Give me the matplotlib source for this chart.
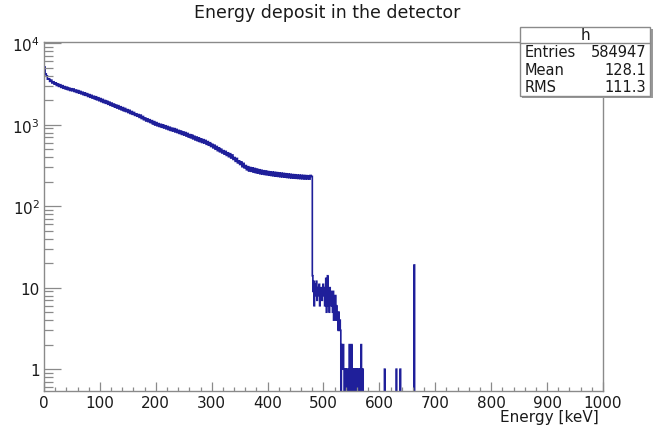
import numpy as np
import matplotlib.pyplot as plt
from matplotlib.ticker import FixedLocator, MultipleLocator, FuncFormatter, NullFormatter
from matplotlib.patches import Rectangle
from matplotlib.lines import Line2D

plt.rcParams['font.family'] = ['DejaVu Sans']

# continuum, 2 keV bins from 0 to 480 keV (counts per keV)
cont_counts = [
    5100, 4200, 3980, 3620, 3650, 3400, 3520, 3250, 3360, 3140,
    3260, 3030, 3160, 2950, 3090, 2870, 3010, 2800, 2930, 2740,
    2880, 2690, 2810, 2630, 2760, 2610, 2740, 2550, 2660, 2490,
    2620, 2440, 2560, 2390, 2500, 2330, 2460, 2290, 2400, 2220,
    2340, 2170, 2290, 2120, 2230, 2070, 2200, 2020, 2140, 1970,
    2090, 1920, 2040, 1870, 1980, 1830, 1940, 1780, 1890, 1730,
    1840, 1690, 1790, 1640, 1740, 1600, 1710, 1560, 1660, 1520,
    1620, 1480, 1580, 1450, 1530, 1410, 1500, 1370, 1450, 1340,
    1410, 1300, 1360, 1270, 1330, 1230, 1310, 1190, 1260, 1150,
    1210, 1110, 1180, 1090, 1150, 1060, 1120, 1020, 1090, 990,
    1060, 970, 1030, 950, 1010, 930, 995, 910, 970, 890,
    950, 870, 930, 850, 905, 835, 895, 815, 875, 800,
    850, 780, 835, 760, 815, 745, 800, 725, 780, 705,
    755, 690, 745, 670, 720, 650, 705, 635, 690, 620,
    670, 605, 655, 595, 640, 575, 620, 560, 600, 540,
    575, 520, 560, 500, 540, 480, 520, 465, 500, 450,
    480, 435, 470, 420, 452, 405, 440, 390, 425, 375,
    395, 355, 385, 340, 360, 325, 350, 305, 335, 295,
    315, 280, 305, 270, 298, 268, 295, 262, 290, 258,
    285, 255, 280, 250, 276, 248, 272, 245, 270, 243,
    266, 240, 264, 238, 262, 236, 260, 234, 258, 232,
    256, 230, 254, 229, 252, 227, 250, 225, 248, 224,
    246, 222, 244, 221, 243, 220, 241, 219, 240, 218,
    239, 217, 238, 216, 237, 216, 236, 215, 238, 232,
]

# sparse tail above the edge, 1 keV bins
tail_energy = [480, 481, 482, 483, 484, 485, 486, 487, 488, 489,
               490, 491, 492, 493, 494, 495, 496, 497, 498, 499,
               500, 501, 502, 503, 504, 505, 506, 507, 508, 509,
               510, 511, 512, 513, 514, 515, 516, 517, 518, 519,
               520, 521, 522, 523, 524, 525, 526, 527, 528, 529,
               530, 532, 533, 534, 535, 536, 538, 540, 542, 543,
               546, 547, 549, 550, 552, 555, 557, 558, 560, 562,
               565, 567, 570, 609, 630, 637, 662]
tail_counts = [14, 9, 12, 6, 11, 8, 10, 12, 7, 9,
               10, 8, 11, 6, 9, 8, 10, 7, 9, 11,
               8, 10, 6, 9, 13, 5, 8, 14, 6, 9,
               5, 10, 7, 9, 6, 8, 5, 9, 4, 7,
               6, 8, 4, 6, 5, 4, 3, 5, 3, 4,
               3, 2, 1, 1, 2, 1, 1, 1, 1, 1,
               2, 1, 1, 2, 1, 1, 1, 1, 1, 1,
               1, 2, 1, 1, 1, 1, 19]

tail = np.zeros(520)
for e, c in zip(tail_energy, tail_counts):
    tail[e - 480] = c

edges = np.concatenate([np.arange(0, 481, 2), np.arange(481, 1001)])
values = np.concatenate([np.array(cont_counts, dtype=float), tail])

frame_col = '#8a8a8a'
text_col = '#1a1a1a'

fig = plt.figure(figsize=(6.53, 4.27), dpi=100)
ax = fig.add_axes([0.0674, 0.082, 0.856, 0.817])
ax.set_yscale('log', nonpositive='clip')
ax.stairs(values, edges, color='#1f1f9a', lw=1.2)

ax.set_xlim(0, 1000)
ax.set_ylim(0.54, 1.03e4)

ax.xaxis.set_major_locator(MultipleLocator(100))
ax.xaxis.set_minor_locator(MultipleLocator(20))
ax.yaxis.set_major_locator(FixedLocator([1, 10, 100, 1000, 10000]))
minor = [m * 10.0 ** d for d in range(-1, 4) for m in range(2, 10)]
ax.yaxis.set_minor_locator(FixedLocator(minor))
ax.yaxis.set_minor_formatter(NullFormatter())

def ylab(v, pos):
    if v == 1:
        return '1'
    if v == 10:
        return '10'
    return r'$\mathregular{10^{%d}}$' % int(round(np.log10(v)))

ax.yaxis.set_major_formatter(FuncFormatter(ylab))

ax.tick_params(axis='y', which='major', direction='in', length=12, width=0.9,
               color=frame_col, labelsize=11, labelcolor=text_col, pad=3)
ax.tick_params(axis='y', which='minor', direction='in', length=6.5, width=0.9,
               color=frame_col)
ax.tick_params(axis='x', which='major', direction='in', length=6.5, width=0.9,
               color=frame_col, labelsize=11, labelcolor=text_col, pad=3)
ax.tick_params(axis='x', which='minor', direction='in', length=3.2, width=0.9,
               color=frame_col)

for s in ax.spines.values():
    s.set_color(frame_col)
    s.set_linewidth(1.0)

fig.text(0.5008, 0.9696, 'Energy deposit in the detector', ha='center', va='center',
         fontsize=12.5, color=text_col)
fig.text(0.917, 0.022, 'Energy [keV]', ha='right', va='center',
         fontsize=11, color=text_col)

# stats box
bx0, bx1 = 0.7963, 0.9985
by0, by1 = 0.7728, 0.9344
fig.patches.append(Rectangle((bx0 + 0.003, by0 - 0.005), bx1 - bx0, by1 - by0,
                             transform=fig.transFigure, facecolor='#9a9a9a',
                             edgecolor='none', zorder=5))
fig.patches.append(Rectangle((bx0, by0), bx1 - bx0 - 0.003, by1 - by0,
                             transform=fig.transFigure, facecolor='white',
                             edgecolor=frame_col, lw=1.0, zorder=6))
fig.lines.append(Line2D([bx0, bx1 - 0.003], [0.897, 0.897], transform=fig.transFigure,
                        color=frame_col, lw=1.0, zorder=7))
fig.text(0.897, 0.916, 'h', ha='center', va='center', fontsize=11, color=text_col, zorder=8)
stats = [('Entries', '584947'), ('Mean', '128.1'), ('RMS', '111.3')]
for (name, val), yy in zip(stats, [0.876, 0.834, 0.794]):
    fig.text(0.804, yy, name, ha='left', va='center', fontsize=10.5, color=text_col, zorder=8)
    fig.text(0.990, yy, val, ha='right', va='center', fontsize=10.5, color=text_col, zorder=8)

fig.savefig('out.png', dpi=100)
